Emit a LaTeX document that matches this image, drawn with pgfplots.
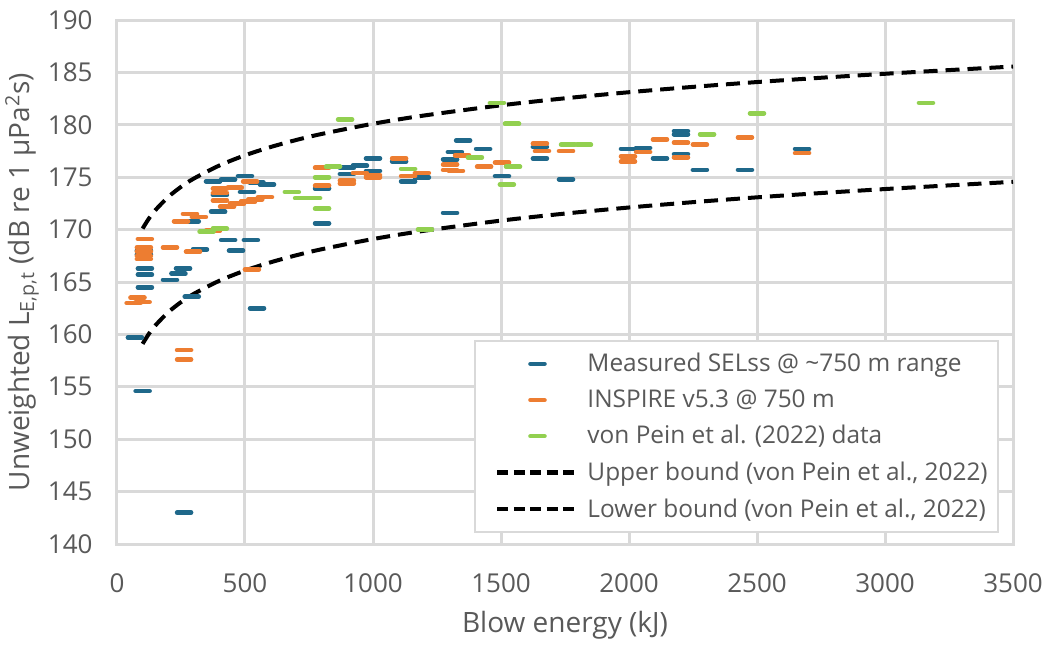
\documentclass[border=0pt]{standalone}
\usepackage{fontspec}
\setmainfont{Open Sans}
\usepackage{pgfplots}
\pgfplotsset{compat=1.18}
\definecolor{gridc}{RGB}{217,217,217}
\definecolor{txt}{RGB}{89,89,89}
\definecolor{cblue}{RGB}{31,104,138}
\definecolor{corange}{RGB}{237,125,49}
\definecolor{cgreen}{RGB}{146,208,80}
\begin{document}
\begin{tikzpicture}
\useasboundingbox (-58.5pt,-50pt) rectangle (466pt,272pt);
\begin{axis}[
  scale only axis, width=448pt, height=262pt,
  xmin=0, xmax=3500, ymin=140, ymax=190,
  xtick={0,500,...,3500}, ytick={140,145,...,190},
  grid=major, major grid style={gridc, line width=1.5pt},
  axis line style={gridc, line width=1.5pt},
  major tick length=0pt,
  tick label style={font=\fontsize{13}{15}\selectfont, color=txt, inner sep=0pt},
  /pgf/number format/assume math mode=true,
  /pgf/number format/1000 sep={},
  xticklabel style={anchor=center, yshift=-19.5pt},
  yticklabel style={anchor=east, xshift=-12pt},
  xlabel={Blow energy (kJ)},
  ylabel={Unweighted L\textsubscript{E,p,t} (dB re 1 μPa\textsuperscript{2}s)},
  label style={font=\fontsize{14}{16}\selectfont, color=txt},
  xlabel style={at={(axis description cs:0.5,-0.155)}, anchor=center},
  ylabel style={at={(axis description cs:-0.106,0.5)}, anchor=center, rotate=0},
  legend cell align=left,
  legend style={at={(rel axis cs:0.984,0.021)}, anchor=south east, draw=gridc, line width=1pt, fill=white,
    font=\fontsize{12.2}{14}\selectfont, text=txt, row sep=3.5pt, inner ysep=4pt, inner xsep=3pt},
  mks/.style={only marks, mark=-, mark size=3.5pt, mark options={line width=2.3pt, line cap=round},
    legend image code/.code={\path (-7pt,0pt) (42pt,0pt); \draw[##1] plot coordinates {(20pt,0pt)};}},
  bnd/.style={black, line width=2pt, dash pattern=on 7pt off 4pt, smooth,
    legend image code/.code={\path (-7pt,0pt) (42pt,0pt); \draw[##1, line width=2.2pt, dash pattern=on 5.5pt off 2.7pt] (0pt,0pt) -- (40pt,0pt);}},
]
\addplot[mks, color=cblue] coordinates {
(375,174.6) (434,174.8) (500,175.1) (545,174.5) (586,174.3) (402,173.3) (508,173.6) (395,171.7)
(292,170.8) (434,169.0) (523,169.0) (465,168.0) (324,168.1) (105,168.0) (105,167.6) (109,166.3)
(109,165.7) (109,164.5) (258,166.3) (240,165.8) (207,165.2) (292,163.6) (547,162.5) (70,159.7)
(100,154.6) (262,143.0) (801,173.9) (801,170.6) (898,175.9) (898,175.3) (949,176.1) (1000,176.8)
(1000,175.6) (1102,176.5) (1137,174.6) (1191,175.0) (1301,176.7) (1301,171.6) (1320,177.4)
(1352,178.5) (1430,177.7) (1504,175.1) (1652,177.9) (1652,176.8) (1754,174.8) (1996,177.7)
(2055,177.8) (2121,176.8) (2203,179.4) (2203,179.1) (2203,177.2) (2277,175.7) (2453,175.7) (2676,177.7)
};
\addlegendentry{Measured SELss @ \textasciitilde 750 m range}
\addplot[mks, color=corange] coordinates {
(65,163.0) (80,163.5) (100,163.1) (109,169.1) (105,168.3) (105,167.9) (105,167.5) (105,167.2)
(207,168.3) (297,167.9) (262,158.5) (262,157.6) (527,166.2) (250,170.8) (285,171.5) (320,171.2)
(375,169.9) (402,173.9) (402,173.5) (460,174.0) (520,174.6) (402,172.8) (430,172.2) (469,172.5)
(512,172.7) (540,172.9) (578,173.1) (801,175.9) (801,174.2) (898,174.7) (898,174.4) (949,175.4)
(1000,175.2) (1000,175.0) (1102,176.8) (1137,175.1) (1191,175.4) (1301,176.2) (1301,175.7)
(1324,175.6) (1348,177.1) (1434,176.0) (1504,176.4) (1652,178.2) (1660,177.5) (1754,177.5)
(1996,177.0) (1996,176.5) (2055,177.4) (2121,178.6) (2203,178.3) (2203,176.9) (2277,178.1)
(2453,178.8) (2676,177.3)
};
\addlegendentry{INSPIRE v5.3 @ 750 m}
\addplot[mks, color=cgreen] coordinates {
(350,169.8) (402,170.1) (683,173.6) (723,173.0) (766,173.0) (801,175.0) (801,172.0) (844,176.0)
(891,180.5) (1137,175.8) (1203,170.0) (1398,176.9) (1484,182.1) (1523,174.3) (1543,180.1)
(1547,176.0) (1762,178.1) (1824,178.1) (2305,179.1) (2500,181.1) (3160,182.1)
};
\addlegendentry{von Pein et al. (2022) data}
\addplot[bnd] coordinates {
(100,170.10) (125,171.07) (150,171.86) (200,173.11) (250,174.08) (300,174.87) (400,176.12)
(500,177.09) (600,177.88) (700,178.55) (800,179.13) (1000,180.10) (1200,180.89) (1500,181.86)
(1750,182.53) (2000,183.11) (2250,183.62) (2500,184.08) (2750,184.49) (3000,184.87) (3250,185.22) (3500,185.56)
};
\addlegendentry{Upper bound (von Pein et al., 2022)}
\addplot[bnd] coordinates {
(100,159.10) (125,160.07) (150,160.86) (200,162.11) (250,163.08) (300,163.87) (400,165.12)
(500,166.09) (600,166.88) (700,167.55) (800,168.13) (1000,169.10) (1200,169.89) (1500,170.86)
(1750,171.53) (2000,172.11) (2250,172.62) (2500,173.08) (2750,173.49) (3000,173.87) (3250,174.22) (3500,174.56)
};
\addlegendentry{Lower bound (von Pein et al., 2022)}
\end{axis}
\end{tikzpicture}
\end{document}
